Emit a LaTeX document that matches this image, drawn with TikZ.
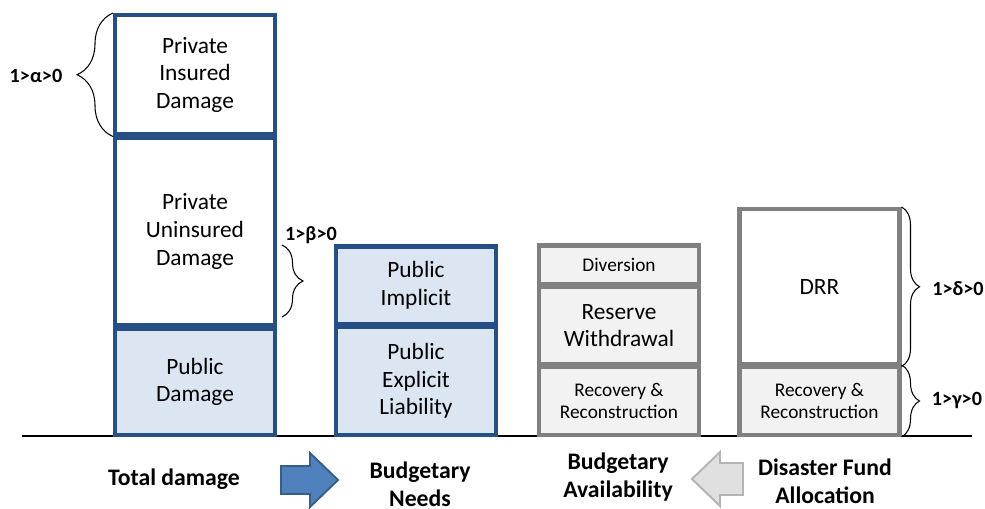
\documentclass[tikz,border=0pt]{standalone}
\usepackage{fontspec}
\setmainfont{Carlito}
\usetikzlibrary{decorations.pathreplacing}

\definecolor{edgeblue}{RGB}{37,79,133}
\definecolor{fillblue}{RGB}{220,230,242}
\definecolor{edgegrey}{RGB}{128,128,128}
\definecolor{fillgrey}{RGB}{242,242,242}
\definecolor{arrowblue}{RGB}{79,129,189}
\definecolor{arrowedge}{RGB}{56,93,138}
\definecolor{arrowgrey}{RGB}{224,224,224}
\definecolor{arrowgreyedge}{RGB}{180,180,180}

\begin{document}
\begin{tikzpicture}[
    x=0.02cm,
    y=-0.02cm,
    box/.style={
        draw,
        line width=2.3pt,
        minimum width=3.2cm,
        inner sep=0pt,
        align=center,
        font=\fontsize{13.3}{15.8}\selectfont
    },
    bluebox/.style={box, draw=edgeblue, fill=fillblue},
    whitebox/.style={box, draw=edgeblue, fill=white},
    greybox/.style={box, draw=edgegrey, fill=fillgrey},
    small/.style={font=\fontsize{11}{13}\selectfont},
    bracelabel/.style={font=\fontsize{11.5}{13}\selectfont\bfseries},
    caption/.style={align=center, font=\fontsize{13.5}{15.8}\selectfont\bfseries},
    bracket/.style={decorate, line width=0.6pt}
    ]
    \useasboundingbox (0,0) rectangle (985,509);

    % ground line
    \draw[line width=0.6pt] (22,436) -- (972,436);

    % total damage
    \node[whitebox, minimum height=2.39cm] (PID) at (195,74.75) {Private\\Insured\\Damage};
    \node[whitebox, minimum height=3.76cm] (PUD) at (195,231.5) {Private\\Uninsured\\Damage};
    \node[bluebox, minimum height=2.12cm] (PD) at (195,382) {Public\\Damage};

    % budgetary needs
    \node[bluebox, minimum height=1.55cm] (PIM) at (416,285.25) {Public\\Implicit};
    \node[bluebox, minimum height=2.16cm] (PEX) at (416,381) {Public\\Explicit\\Liability};

    % budgetary availability
    \node[greybox, small, minimum height=0.77cm] (DIV) at (619,264.75) {Diversion};
    \node[greybox, minimum height=1.56cm] (RESW) at (619,325.5) {Reserve\\Withdrawal};
    \node[greybox, small, minimum height=1.36cm] (REC3) at (619,401) {Recovery \&\\Reconstruction};

    % disaster fund allocation
    \node[box, draw=edgegrey, fill=white, minimum height=3.11cm] (DRR) at (819.5,286.75) {DRR};
    \node[greybox, small, minimum height=1.36cm] (REC4) at (819.5,401) {Recovery \&\\Reconstruction};

    % braces
    \draw[bracket, decoration={brace, amplitude=0.72cm}] (PID.south west) -- (PID.north west);
    \draw[bracket, decoration={brace, amplitude=0.42cm}] (282,245) -- (282,317);
    \draw[bracket, decoration={brace, amplitude=0.36cm}] (DRR.north east) -- (DRR.south east);
    \draw[bracket, decoration={brace, amplitude=0.36cm}] (REC4.north east) -- (REC4.south east);

    \node[bracelabel] (ALPHA) at (36,76) {1>α>0};
    \node[bracelabel] (BETA) at (311,235) {1>β>0};
    \node[bracelabel] (DELTA) at (958,289) {1>δ>0};
    \node[bracelabel] (GAMMA) at (957,400) {1>γ>0};

    % captions
    \node[caption] (TD) at (174,479) {Total damage};
    \node[caption] (BN) at (420,484) {Budgetary\\Needs};
    \node[caption] (BA) at (618,477) {Budgetary\\Availability};
    \node[caption] (DFA) at (825,481) {Disaster Fund\\Allocation};

    % block arrows
    \draw[line width=1.1pt, draw=arrowedge, fill=arrowblue]
        (281,466) -- (310,466) -- (310,453) -- (338,480) -- (310,507) -- (310,494) -- (281,494) -- cycle;
    \draw[line width=1.1pt, draw=arrowgreyedge, fill=arrowgrey]
        (743,463) -- (720,463) -- (720,452) -- (692,479) -- (720,506) -- (720,495) -- (743,495) -- cycle;
\end{tikzpicture}
\end{document}
